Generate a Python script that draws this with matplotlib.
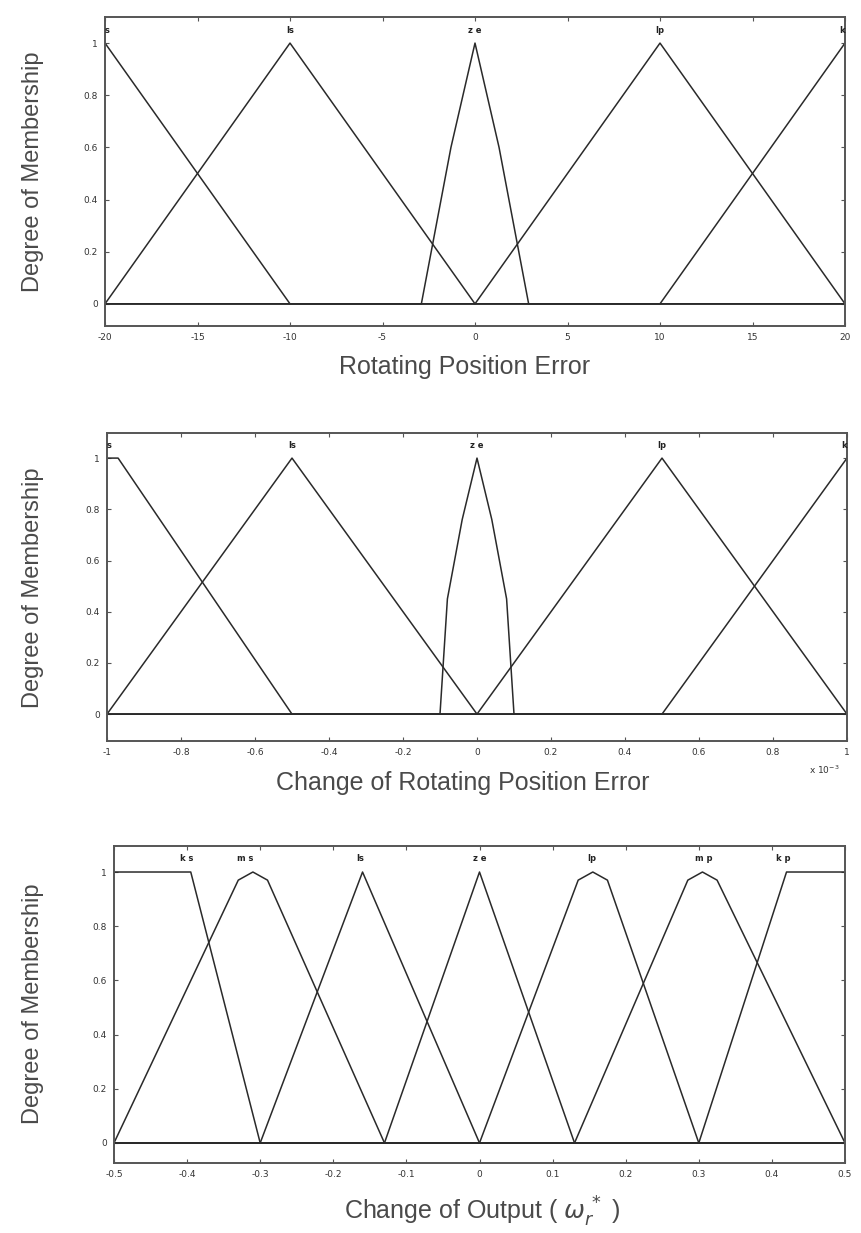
import numpy as np
import matplotlib.pyplot as plt

# panel 1 - rotating position error
err_labels = ["s", "ls", "z e", "lp", "k"]
err_label_x = [-20, -10, 0, 10, 20]
err_x = [[-20, -10, 20],
         [-20, -10, 0, 20],
         [-20, -2.9, -1.3, 0, 1.3, 2.9, 20],
         [-20, 0, 10, 20],
         [-20, 10, 20]]
err_y = [[1, 0, 0],
         [0, 1, 0, 0],
         [0, 0, 0.6, 1, 0.6, 0, 0],
         [0, 0, 1, 0],
         [0, 0, 1]]
err_ticks = [-20, -15, -10, -5, 0, 5, 10, 15, 20]

# panel 2 - change of rotating position error (x 1e-3)
derr_labels = ["s", "ls", "z e", "lp", "k"]
derr_label_x = [-1, -0.5, 0, 0.5, 1]
derr_x = [[-1, -0.97, -0.5, 1],
          [-1, -0.5, 0, 1],
          [-1, -0.1, -0.08, -0.04, 0, 0.04, 0.08, 0.1, 1],
          [-1, 0, 0.5, 1],
          [-1, 0.5, 1]]
derr_y = [[1, 1, 0, 0],
          [0, 1, 0, 0],
          [0, 0, 0.45, 0.76, 1, 0.76, 0.45, 0, 0],
          [0, 0, 1, 0],
          [0, 0, 1]]
derr_ticks = [-1, -0.8, -0.6, -0.4, -0.2, 0, 0.2, 0.4, 0.6, 0.8, 1]

# panel 3 - change of output
out_labels = ["k s", "m s", "ls", "z e", "lp", "m p", "k p"]
out_label_x = [-0.4, -0.32, -0.163, 0, 0.153, 0.307, 0.415]
out_x = [[-0.5, -0.395, -0.3, 0.5],
         [-0.5, -0.33, -0.31, -0.29, -0.13, 0.5],
         [-0.5, -0.3, -0.16, 0, 0.5],
         [-0.5, -0.13, 0, 0.13, 0.5],
         [-0.5, 0, 0.135, 0.155, 0.175, 0.3, 0.5],
         [-0.5, 0.13, 0.285, 0.305, 0.325, 0.5],
         [-0.5, 0.3, 0.42, 0.5]]
out_y = [[1, 1, 0, 0],
         [0, 0.97, 1, 0.97, 0, 0],
         [0, 0, 1, 0, 0],
         [0, 0, 1, 0, 0],
         [0, 0, 0.97, 1, 0.97, 0, 0],
         [0, 0, 0.97, 1, 0.97, 0],
         [0, 0, 1, 1]]
out_ticks = [-0.5, -0.4, -0.3, -0.2, -0.1, 0, 0.1, 0.2, 0.3, 0.4, 0.5]

yticks = [0, 0.2, 0.4, 0.6, 0.8, 1]

line_col = '#2a2a2a'
text_col = '#4a4a4a'
label_font = 'Liberation Sans'

fig = plt.figure(figsize=(8.61, 12.33), dpi=100)


def fmt(v):
  return '%g' % v


def mfpanel(rect, xs, ys, names, name_x, ticks, ylim):
  ax = fig.add_axes(rect)
  for x, y in zip(xs, ys):
    ax.plot(x, y, color=line_col, lw=1.1)
  for nm, px in zip(names, name_x):
    ha = 'center'
    if px == ticks[0]:
      ha = 'left'
    elif px == ticks[-1]:
      ha = 'right'
    ax.text(px, 1.05, nm, ha=ha, va='center', fontsize=6, color='#222',
            fontweight='bold')
  ax.set_xlim(ticks[0], ticks[-1])
  ax.set_ylim(*ylim)
  ax.set_xticks(ticks)
  ax.set_xticklabels([fmt(t) for t in ticks])
  ax.set_yticks(yticks)
  ax.set_yticklabels([fmt(t) for t in yticks])
  ax.tick_params(direction='in', length=3, width=0.8, top=True, right=True,
                 labelsize=6.5, labelcolor='#333', color='#555', pad=5)
  for sp in ax.spines.values():
    sp.set_linewidth(1.4)
    sp.set_color('#555')
  return ax


W, H = 861.0, 1233.0


def rect(l, r, t, b):
  return [l / W, 1 - b / H, (r - l) / W, (b - t) / H]


ax1 = mfpanel(rect(105, 845, 17, 326), err_x, err_y, err_labels, err_label_x,
              err_ticks, (-0.085, 1.1))
ax2 = mfpanel(rect(107, 847, 433, 741), derr_x, derr_y, derr_labels,
              derr_label_x, derr_ticks, (-0.105, 1.098))
ax3 = mfpanel(rect(114, 845, 846, 1163), out_x, out_y, out_labels,
              out_label_x, out_ticks, (-0.074, 1.096))

ax2.text(0.99, -0.095, r'x 10$^{-3}$', transform=ax2.transAxes, ha='right',
         va='center', fontsize=6.5, color='#333')

# axis titles
for yc in [172, 588, 1004]:
  fig.text(33 / W, 1 - yc / H, 'Degree of Membership', rotation=90,
           ha='center', va='center', fontsize=17, color=text_col,
           family=label_font)

fig.text(465 / W, 1 - 367 / H, 'Rotating Position Error', ha='center',
         va='center', fontsize=18, color=text_col, family=label_font)
fig.text(463 / W, 1 - 783 / H, 'Change of Rotating Position Error',
         ha='center', va='center', fontsize=18, color=text_col,
         family=label_font)
fig.text(482 / W, 1 - 1212 / H, r'Change of Output ( $\omega_r^{\,*}$ )',
         ha='center', va='center', fontsize=18, color=text_col,
         family=label_font)

fig.savefig('out.png', dpi=100)
